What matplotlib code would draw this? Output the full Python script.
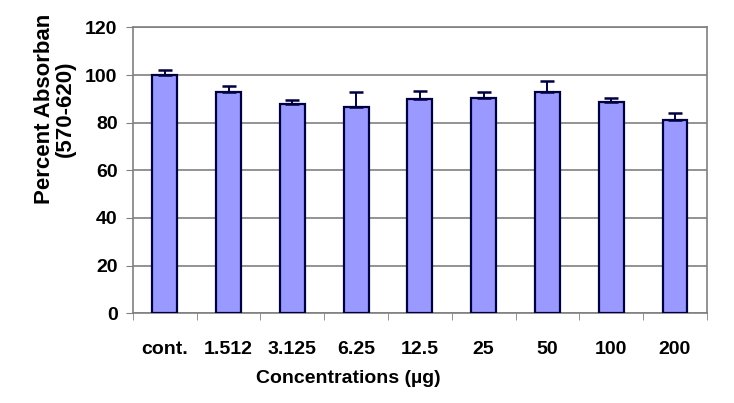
import numpy as np
import matplotlib
matplotlib.use("Agg")
from matplotlib import pyplot as plt

# values
labels = ["cont.", "1.512", "3.125", "6.25", "12.5", "25", "50", "100", "200"]
means = [100.0, 93.0, 88.0, 86.5, 90.0, 90.3, 93.0, 88.5, 81.0]
errors = [2.0, 2.6, 1.5, 6.3, 3.2, 2.5, 4.6, 1.8, 3.0]
yticks = [0, 20, 40, 60, 80, 100, 120]

plt.rcParams['font.family'] = ['Liberation Sans', 'DejaVu Sans']
plt.rcParams['font.weight'] = 'bold'

fig = plt.figure(figsize=(7.34, 4.03), dpi=100)
ax = fig.add_axes([0.181, 0.223, 0.782, 0.709])

x = np.arange(len(labels))
ax.bar(x, means, width=0.39, color="#9999ff", edgecolor="#000040", linewidth=1.6, zorder=3)
# Excel style "plus" error bars, only upward
ax.errorbar(x, means, yerr=[np.zeros(len(errors)), errors], fmt="none",
            ecolor="#000040", elinewidth=1.4, capsize=5, capthick=1.8, zorder=4)

ax.set_xlim(-0.5, len(labels) - 0.5)
ax.set_ylim(0, 120)
ax.set_yticks(yticks)
ax.yaxis.grid(True, color="#808080", linewidth=1.2, zorder=0)

ax.set_xticks(x)
ax.set_xticklabels(labels, fontsize=14, fontweight="bold")
ax.set_xticks(np.arange(len(labels) + 1) - 0.5, minor=True)
ax.tick_params(axis="x", which="major", length=0, pad=20)
ax.tick_params(axis="x", which="minor", length=5, color="#808080", direction="out")
ax.tick_params(axis="y", length=5, color="#808080", direction="out", labelsize=14, pad=6)
for lab in ax.get_yticklabels():
  lab.set_fontweight("bold")

for side in ["left", "bottom", "right", "top"]:
  ax.spines[side].set_color("#808080")
  ax.spines[side].set_linewidth(1.2)

ax.set_xlabel("Concentrations (\u00b5g)", fontsize=14, fontweight="bold")
ax.xaxis.set_label_coords(0.375, -0.2)
ax.set_ylabel("Percent Absorban\n(570-620)", fontsize=16, fontweight="bold", linespacing=1.0)
ax.yaxis.set_label_coords(-0.099, 0.715)

fig.savefig("out.png", dpi=100)
